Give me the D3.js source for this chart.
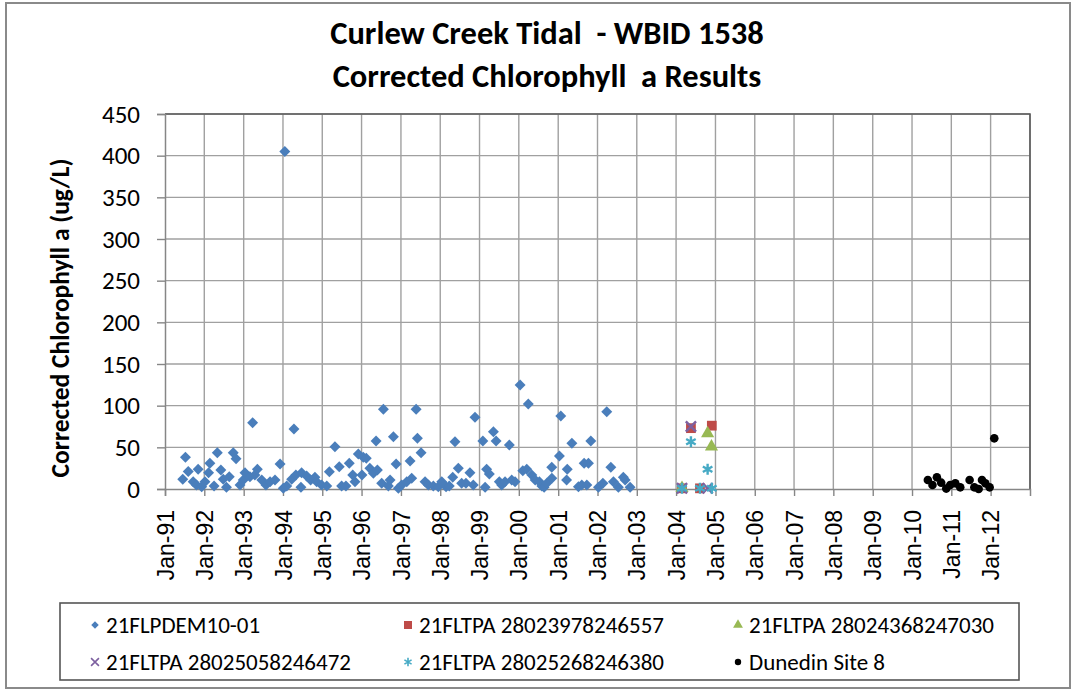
<!DOCTYPE html>
<html>
<head>
<meta charset="utf-8">
<script src="https://cdn.jsdelivr.net/npm/d3@7"></script>
<style>
  body { margin: 0; background: #fff; }
  text { white-space: pre; }
</style>
</head>
<body>
<svg id="chart" width="1076" height="691"></svg>
<script>
// values, one pair of arrays per station
const demDates = [
  "1991-06-15","1991-07-10","1991-08-05","1991-09-20","1991-10-20","1991-11-05","1991-12-08",
  "1992-01-07","1992-02-10","1992-02-22","1992-04-01","1992-05-01","1992-06-03","1992-06-25",
  "1992-07-25","1992-08-20","1992-09-26","1992-10-22","1992-11-28","1992-12-28",
  "1993-01-13","1993-02-28","1993-03-25","1993-04-15","1993-05-08","1993-06-18","1993-07-27",
  "1993-09-03","1993-10-19","1993-12-05",
  "1994-01-04","1994-01-18","1994-02-05","1994-03-23","1994-04-13","1994-05-01","1994-06-17",
  "1994-06-23","1994-08-09","1994-09-15","1994-10-25","1994-11-10","1994-12-26",
  "1995-02-12","1995-03-08","1995-04-29","1995-06-08","1995-06-30","1995-08-09","1995-09-09",
  "1995-10-11","1995-11-01","1995-12-02",
  "1996-01-05","1996-01-17","1996-02-14","1996-03-18","1996-04-20","1996-05-15","1996-05-27",
  "1996-07-06","1996-07-22","1996-09-06","1996-09-22","1996-10-23","1996-11-17","1996-12-08",
  "1997-01-08","1997-02-24","1997-03-27","1997-04-11","1997-05-22","1997-06-03","1997-07-07",
  "1997-08-13","1997-09-13","1997-10-29","1997-12-14",
  "1998-01-15","1998-02-24","1998-03-26","1998-04-27","1998-05-18","1998-06-18","1998-07-19",
  "1998-08-28","1998-10-04","1998-11-04","1998-11-20",
  "1999-02-01","1999-02-22","1999-03-08","1999-04-02","1999-05-10","1999-06-04","1999-07-04",
  "1999-07-26","1999-08-26","1999-10-05","1999-10-27","1999-11-27",
  "2000-01-13","2000-02-07","2000-03-15","2000-03-29","2000-05-01","2000-06-01","2000-07-10",
  "2000-08-02","2000-08-23","2000-09-17","2000-11-02","2000-11-03",
  "2001-01-12","2001-01-25","2001-03-20","2001-03-26","2001-05-08","2001-07-08","2001-08-08",
  "2001-08-30","2001-09-24","2001-10-09","2001-10-31",
  "2002-01-10","2002-02-20","2002-03-28","2002-05-05","2002-05-29","2002-07-14","2002-08-29",
  "2002-09-15","2002-10-31"
];
const demValues = [
  11.6, 38, 21, 8.8, 4.8, 23.6, 2.8,
  8.8, 19.6, 30.8, 3.6, 43.6, 22.8, 11.6,
  2, 14.8, 43.6, 36.4, 4.8, 10.8,
  19.6, 14.8, 79.6, 16.8, 23.6, 10.8, 4.8,
  8.8, 10.8, 30,
  0.8, 405, 3.6, 11.6, 72, 16.8, 2,
  19.6, 15.6, 10.8, 14, 8.8, 4.8,
  3.6, 20.8, 50.8, 26.8, 3.6, 3.6, 30.8,
  16.8, 8.8, 42,
  16.8, 38, 36.8, 24.8, 18.8, 57.6, 22.8,
  6.8, 95.6, 3.6, 10.8, 62.8, 30, 0.8,
  4.8, 8.8, 33.6, 12.8, 95.6, 60.8, 43.6,
  8.8, 4.8, 3.6, 2.8,
  8.8, 2.8, 3.6, 14, 56.8, 24.8, 6.8,
  6.8, 19.6, 4.8, 86,
  57.6, 2, 23.6, 18, 68.8, 57.6, 8.8,
  4.8, 8.8, 52.8, 10.8, 8.8,
  124.8, 22, 23.6, 102, 16.8, 10.8, 8.8,
  3.6, 2, 6.8, 26, 12.8,
  39.6, 87.6, 10.8, 23.6, 54.8, 2.8, 4.8,
  30.8, 4.8, 30.8, 57.6,
  2, 6.8, 92.8, 26, 8.8, 2, 14,
  10.8, 2
];

const tpa557Dates = ["2004-02-25", "2004-05-18", "2004-08-10", "2004-11-28"];
const tpa557Values = [0.8, 73, 0.8, 76];

const tpa030Dates = ["2004-02-25", "2004-10-20", "2004-11-25"];
const tpa030Values = [1, 66.8, 50.8];

const tpa472Dates = ["2004-02-25", "2004-05-18", "2004-10-20"];
const tpa472Values = [1, 75, 1];

const tpa380Dates = ["2004-02-25", "2004-05-18", "2004-08-10", "2004-10-20", "2004-11-28"];
const tpa380Values = [0.8, 56.8, 0.8, 23.6, 0.8];

const dunedinDates = [
  "2010-05-28","2010-07-10","2010-08-20","2010-09-29","2010-11-15","2010-12-22",
  "2011-02-07","2011-03-25","2011-06-20","2011-08-03","2011-09-12","2011-10-13",
  "2011-11-13","2011-12-23","2012-02-04"
];
const dunedinValues = [10.8, 4.8, 14, 7.6, 0.5, 4.8, 6.8, 2, 10.8, 2, 0, 10.8, 6.8, 2, 60.8];

const seriesNames = [
  "21FLPDEM10-01", "21FLTPA 28023978246557", "21FLTPA 28024368247030",
  "21FLTPA 28025058246472", "21FLTPA 28025268246380", "Dunedin Site 8"
];
const yTicks = [0, 50, 100, 150, 200, 250, 300, 350, 400, 450];
const xTickYears = d3.range(1991, 2013);

const parse = d3.timeParse("%Y-%m-%d");
const zip = (dates, values) => dates.map((d, i) => ({ date: parse(d), value: values[i] }));

const calibri = "Carlito, Calibri, Lato, sans-serif";

// marker look per series: shape, size, fill / stroke
const series = [
  { name: seriesNames[0], data: zip(demDates, demValues), type: d3.symbolSquare, size: 60, rotate: 45, fill: "#4a7ebb", legendSize: 28 },
  { name: seriesNames[1], data: zip(tpa557Dates, tpa557Values), type: d3.symbolSquare, size: 95, fill: "#be4b48", legendSize: 64 },
  { name: seriesNames[2], data: zip(tpa030Dates, tpa030Values), type: d3.symbolTriangle, size: 75, fill: "#98b954", legendSize: 42 },
  { name: seriesNames[3], data: zip(tpa472Dates, tpa472Values), type: d3.symbolX, size: 70, stroke: "#7d60a0", legendSize: 42 },
  { name: seriesNames[4], data: zip(tpa380Dates, tpa380Values), type: d3.symbolAsterisk, size: 85, stroke: "#46aac5", legendSize: 48 },
  { name: seriesNames[5], data: zip(dunedinDates, dunedinValues), type: d3.symbolCircle, size: 58, fill: "#000", legendSize: 32 }
];

const svg = d3.select("#chart");
const plot = { left: 165, top: 114, right: 1030, bottom: 489 };

const x = d3.scaleTime()
  .domain([new Date(1991, 0, 1), new Date(2013, 0, 1)])
  .range([plot.left, plot.right]);
const y = d3.scaleLinear()
  .domain([0, 450])
  .range([plot.bottom, plot.top]);

// chart area frame
svg.append("rect")
  .attr("x", 6).attr("y", 3)
  .attr("width", 1064).attr("height", 685)
  .attr("fill", "#fff")
  .attr("stroke", "#8a8a8a")
  .attr("stroke-width", 2);

// title
const title = svg.append("text")
  .attr("text-anchor", "middle")
  .attr("font-family", calibri)
  .attr("font-weight", "bold")
  .attr("font-size", 32.5)
  .attr("fill", "#000");
title.append("tspan").attr("x", 547).attr("y", 44).text("Curlew Creek Tidal  - WBID 1538");
title.append("tspan").attr("x", 547).attr("y", 87).text("Corrected Chlorophyll  a Results");

// gridlines
const xTickDates = xTickYears.map(yr => new Date(yr, 0, 1));
svg.append("g")
  .selectAll("line.vgrid")
  .data(xTickDates.slice(1).concat([new Date(2013, 0, 1)]))
  .join("line")
  .attr("class", "vgrid")
  .attr("x1", d => x(d)).attr("x2", d => x(d))
  .attr("y1", plot.top).attr("y2", plot.bottom)
  .attr("stroke", "#a0a0a0").attr("stroke-width", 1.4);

svg.append("g")
  .selectAll("line.hgrid")
  .data(yTicks.slice(1))
  .join("line")
  .attr("class", "hgrid")
  .attr("x1", plot.left).attr("x2", plot.right)
  .attr("y1", d => y(d)).attr("y2", d => y(d))
  .attr("stroke", "#a0a0a0").attr("stroke-width", 1.4);

// top / right border of the plot area
svg.append("path")
  .attr("d", `M${plot.left},${plot.top}H${plot.right}V${plot.bottom}`)
  .attr("fill", "none")
  .attr("stroke", "#5a5a5a")
  .attr("stroke-width", 1.6);

// y axis
const yAxis = svg.append("g")
  .attr("transform", `translate(${plot.left},0)`)
  .call(d3.axisLeft(y).tickValues(yTicks).tickSize(8).tickPadding(17));
yAxis.select(".domain").attr("stroke", "#868686").attr("stroke-width", 1.5);
yAxis.selectAll(".tick line").attr("stroke", "#868686").attr("stroke-width", 1.4);
yAxis.selectAll(".tick text")
  .attr("font-family", calibri)
  .attr("font-size", 25)
  .attr("fill", "#000");

// x axis
const xAxis = svg.append("g")
  .attr("transform", `translate(0,${plot.bottom})`)
  .call(d3.axisBottom(x).tickValues(xTickDates).tickSize(7).tickFormat(d3.timeFormat("%b-%y")));
xAxis.select(".domain").attr("stroke", "#868686").attr("stroke-width", 1.5);
xAxis.selectAll(".tick line").attr("stroke", "#868686").attr("stroke-width", 1.4);
xAxis.selectAll(".tick text")
  .attr("font-family", "'Liberation Sans', Arial, sans-serif")
  .attr("font-size", 23)
  .attr("fill", "#000")
  .attr("text-anchor", "end")
  .attr("transform", "rotate(-90)")
  .attr("x", -21)
  .attr("y", 0)
  .attr("dy", "0.35em");

// y axis title
svg.append("text")
  .attr("transform", "translate(69,318) rotate(-90)")
  .attr("text-anchor", "middle")
  .attr("font-family", calibri)
  .attr("font-weight", "bold")
  .attr("font-size", 25.5)
  .attr("fill", "#000")
  .text("Corrected Chlorophyll a (ug/L)");

// points
const symbolPath = s => d3.symbol().type(s.type).size(s.size)();
series.forEach(s => {
  svg.append("g")
    .selectAll("path")
    .data(s.data)
    .join("path")
    .attr("d", symbolPath(s))
    .attr("transform", d => `translate(${x(d.date)},${y(d.value)})` + (s.rotate ? ` rotate(${s.rotate})` : ""))
    .attr("fill", s.fill || "none")
    .attr("stroke", s.stroke || "none")
    .attr("stroke-width", s.stroke ? 2.4 : 0);
});

// legend
svg.append("rect")
  .attr("x", 60).attr("y", 603)
  .attr("width", 959).attr("height", 77)
  .attr("fill", "#fff")
  .attr("stroke", "#555")
  .attr("stroke-width", 1.6);

const legendCols = [95, 408, 738];
const legendRows = [625, 662];
const legend = svg.append("g")
  .selectAll("g")
  .data(series)
  .join("g")
  .attr("transform", (d, i) => `translate(${legendCols[i % 3]},${legendRows[Math.floor(i / 3)]})`);

legend.append("path")
  .attr("d", s => d3.symbol().type(s.type).size(s.legendSize)())
  .attr("transform", s => s.rotate ? `rotate(${s.rotate})` : null)
  .attr("fill", s => s.fill || "none")
  .attr("stroke", s => s.stroke || "none")
  .attr("stroke-width", s => s.stroke ? 1.6 : 0);

legend.append("text")
  .attr("x", 11)
  .attr("dy", "0.35em")
  .attr("font-family", calibri)
  .attr("font-size", 23)
  .attr("fill", "#000")
  .text(s => s.name);
</script>
</body>
</html>
